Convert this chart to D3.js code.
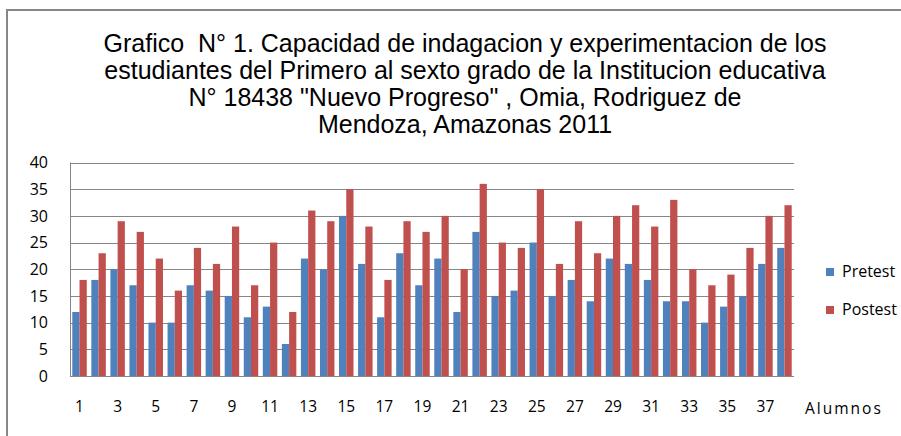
<!DOCTYPE html>
<html>
<head>
<meta charset="utf-8">
<script src="https://cdn.jsdelivr.net/npm/d3@7"></script>
<style>
  body { margin: 0; background: #fff; }
  svg { display: block; }
</style>
</head>
<body>
<svg id="chart"></svg>
<script>
const width = 901;
const height = 436;

const titleLines = [
    'Grafico  N° 1. Capacidad de indagacion y experimentacion de los',
    'estudiantes del Primero al sexto grado de la Institucion educativa',
    'N° 18438 "Nuevo Progreso" , Omia, Rodriguez de',
    'Mendoza, Amazonas 2011'
];
const students = d3.range(1, 39);
const pretest = [12, 18, 20, 17, 10, 10, 17, 16, 15, 11, 13, 6, 22, 20, 30, 21, 11, 23, 17, 22,
    12, 27, 15, 16, 25, 15, 18, 14, 22, 21, 18, 14, 14, 10, 13, 15, 21, 24];
const postest = [18, 23, 29, 27, 22, 16, 24, 21, 28, 17, 25, 12, 31, 29, 35, 28, 18, 29, 27, 30,
    20, 36, 25, 24, 35, 21, 29, 23, 30, 32, 28, 33, 20, 17, 19, 24, 30, 32];
const yTicks = [0, 5, 10, 15, 20, 25, 30, 35, 40];
const seriesNames = ['Pretest', 'Postest'];
const colors = ['#4f81bd', '#c0504d'];

const svg = d3.select('#chart').attr('width', width).attr('height', height);

// outer frame (right and bottom are cut off in the picture)
svg.append('path')
    .attr('d', `M7,${height} V10 H${width}`)
    .attr('fill', 'none')
    .attr('stroke', '#878787')
    .attr('stroke-width', 2);

svg.append('g').selectAll('text')
    .data(titleLines)
    .join('text')
    .attr('x', 465)
    .attr('y', (d, i) => 52 + i * 27)
    .attr('text-anchor', 'middle')
    .attr('font-family', 'Liberation Sans, Arial, sans-serif')
    .attr('font-size', 25)
    .style('white-space', 'pre')
    .attr('fill', '#000')
    .text(d => d);

const plot = { left: 70, right: 794, top: 162.5, bottom: 376 };

const x = d3.scaleBand().domain(students).range([plot.left, plot.right]).paddingInner(0.24).paddingOuter(0.12);
const xs = d3.scaleBand().domain(seriesNames).range([0, x.bandwidth()]);
const y = d3.scaleLinear().domain([0, 40]).range([plot.bottom, plot.top]);

svg.append('g').selectAll('line')
    .data(yTicks)
    .join('line')
    .attr('x1', plot.left)
    .attr('x2', plot.right)
    .attr('y1', d => Math.round(y(d)) + 0.5)
    .attr('y2', d => Math.round(y(d)) + 0.5)
    .attr('stroke', '#868686')
    .attr('stroke-width', 1);

svg.append('line')
    .attr('x1', plot.left + 0.5).attr('x2', plot.left + 0.5)
    .attr('y1', plot.top).attr('y2', plot.bottom)
    .attr('stroke', '#868686');

const yAxis = svg.append('g')
    .attr('transform', `translate(${plot.left - 22}, 0)`)
    .call(d3.axisLeft(y).tickValues(yTicks).tickSize(0).tickPadding(0));
yAxis.select('.domain').remove();
yAxis.selectAll('text')
    .attr('font-family', 'Open Sans, sans-serif')
    .attr('font-size', 16)
    .attr('fill', '#000');

const bars = [pretest, postest];
bars.forEach((vals, s) => {
    svg.append('g').selectAll('rect')
        .data(students)
        .join('rect')
        .attr('x', d => x(d) + xs(seriesNames[s]))
        .attr('y', (d, i) => y(vals[i]))
        .attr('width', xs.bandwidth())
        .attr('height', (d, i) => y(0) - y(vals[i]))
        .attr('fill', colors[s]);
});

const xAxis = svg.append('g')
    .attr('transform', `translate(0, 401)`)
    .call(d3.axisBottom(x).tickValues(students.filter(d => d % 2 === 1)).tickSize(0).tickPadding(0));
xAxis.select('.domain').remove();
xAxis.selectAll('text')
    .attr('font-family', 'Open Sans, sans-serif')
    .attr('font-size', 15.5)
    .attr('fill', '#000');

svg.append('text')
    .attr('x', 805).attr('y', 414)
    .attr('font-family', 'Open Sans, sans-serif')
    .attr('font-size', 15.5)
    .attr('letter-spacing', 2)
    .attr('fill', '#000')
    .text('Alumnos');

const legend = svg.append('g').selectAll('g')
    .data(seriesNames)
    .join('g')
    .attr('transform', (d, i) => `translate(826, ${268 + i * 38})`);
legend.append('rect')
    .attr('width', 8).attr('height', 8)
    .attr('fill', (d, i) => colors[i]);
legend.append('text')
    .attr('x', 16).attr('y', 9)
    .attr('font-family', 'Open Sans, sans-serif')
    .attr('font-size', 16)
    .attr('fill', '#000')
    .text(d => d);
</script>
</body>
</html>
